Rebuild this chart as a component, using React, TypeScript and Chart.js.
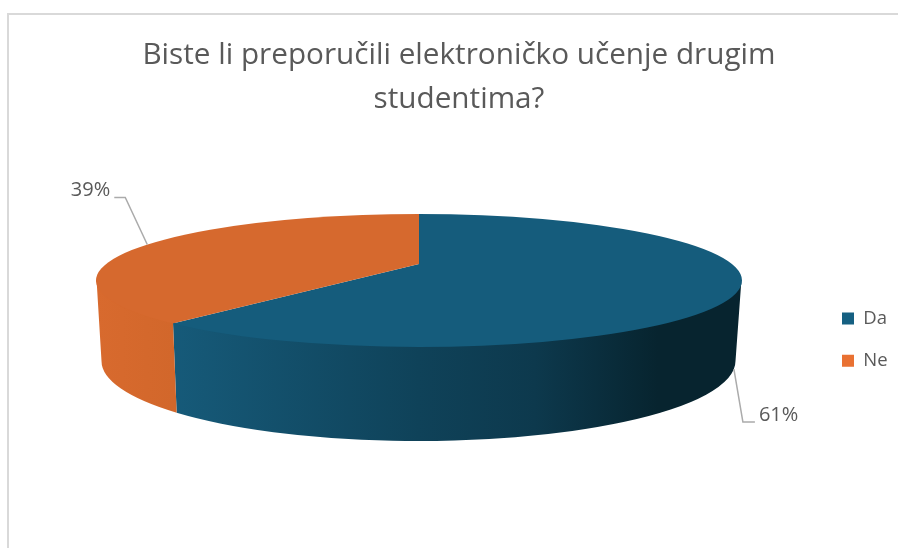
import React, { useEffect, useRef } from "react";
import { Chart, registerables } from "chart.js";

Chart.register(...registerables);

const titleLines = ["Biste li preporučili elektroničko učenje drugim", "studentima?"];
const categories = ["Da", "Ne"];
const shares = [61, 39];

const legendColors = ["#156082", "#E97132"];
const faceColors = ["#155C7C", "#D6692E"];
const FONT = "'Open Sans', sans-serif";
const TEXT = "#595959";

// Perspective of the tilted disc: how much the near half of the circle is stretched.
const PERSPECTIVE = 0.777;
// Lower rim of the disc, relative to the top face box.
const RIM = { dx: -0.5, dy: 80.5, rx: 317, ry: 80 };
// Leader line offsets from each slice's anchor point.
const LEADERS = [
  { elbow: [9, 53], end: [21, 53], text: [25, 46], align: "left" },
  { elbow: [-22, -47], end: [-33, -47], text: [-37, -54], align: "right" },
];

const warp = (angle: number) => {
  const t = (angle + Math.PI / 2) / 2;
  return 2 * Math.atan2(PERSPECTIVE * Math.sin(t), Math.cos(t)) - Math.PI / 2;
};

const wallFill = (ctx: CanvasRenderingContext2D, index: number, left: number, right: number) => {
  const g = ctx.createLinearGradient(left, 0, right, 0);
  if (index === 0) {
    g.addColorStop(0.12, "#165A79");
    g.addColorStop(0.5, "#0F4259");
    g.addColorStop(0.68, "#0D394D");
    g.addColorStop(0.87, "#07242F");
    g.addColorStop(1, "#07242F");
  } else {
    g.addColorStop(0, "#D86A2E");
    g.addColorStop(0.12, "#D2672B");
  }
  return g;
};

function drawSlice(this: any, ctx: CanvasRenderingContext2D) {
  const area = this.$area;
  const i = this.$index;
  const cx = (area.left + area.right) / 2;
  const cy = (area.top + area.bottom) / 2;
  const rx = area.width / 2;
  const ry = area.height / 2;
  const a = this.startAngle;
  const b = this.endAngle;
  const lo = Math.max(a, 0);
  const hi = Math.min(b, Math.PI);
  if (hi > lo) {
    // The wall starts a pixel under the top face so no seam shows between them.
    ctx.beginPath();
    ctx.ellipse(cx, cy - 1.5, rx - 0.5, ry, 0, lo, hi);
    ctx.ellipse(cx + RIM.dx, cy + RIM.dy, RIM.rx, RIM.ry, 0, hi, lo, true);
    ctx.closePath();
    ctx.fillStyle = wallFill(ctx, i, area.left, area.right);
    ctx.fill();
  }
  // Apex: where the disc's centre lands under perspective.
  const apexY = area.top + (area.height * PERSPECTIVE * PERSPECTIVE) / (1 + PERSPECTIVE * PERSPECTIVE);
  ctx.beginPath();
  ctx.moveTo(cx, apexY);
  ctx.ellipse(cx, cy, rx, ry, 0, a, b);
  ctx.closePath();
  ctx.fillStyle = faceColors[i];
  ctx.fill();
}

const disc3d = {
  id: "disc3d",
  beforeDraw(chart: any) {
    const { ctx, width, height } = chart;
    ctx.save();
    ctx.fillStyle = "#FFFFFF";
    ctx.fillRect(0, 0, width, height);
    ctx.strokeStyle = "#D9D9D9";
    ctx.lineWidth = 2;
    ctx.beginPath();
    ctx.moveTo(8, height);
    ctx.lineTo(8, 14);
    ctx.lineTo(width, 14);
    ctx.stroke();
    ctx.restore();
  },
  afterLayout(chart: any) {
    const left = 96, right = 742, top = 214, bottom = 347;
    chart.chartArea = { left, right, top, bottom, width: right - left, height: bottom - top };
    const lg = chart.legend;
    lg.left = 818.1; lg.right = 898; lg.top = 285.3; lg.bottom = 548;
  },
  afterDatasetsUpdate(chart: any) {
    chart.getDatasetMeta(0).data.forEach((el: any, i: number) => {
      el.startAngle = warp(el.startAngle);
      el.endAngle = warp(el.endAngle);
      el.$area = chart.chartArea;
      el.$index = i;
      el.draw = drawSlice;
    });
  },
  afterDatasetsDraw(chart: any) {
    const { ctx, chartArea: area } = chart;
    const cx = (area.left + area.right) / 2;
    const cy = (area.top + area.bottom) / 2;
    const total = shares.reduce((s, v) => s + v, 0);
    chart.getDatasetMeta(0).data.forEach((el: any, i: number) => {
      const before = shares.slice(0, i).reduce((s, v) => s + v, 0);
      const trueMid = -Math.PI / 2 + ((before + shares[i] / 2) / total) * 2 * Math.PI;
      const m = warp(trueMid);
      const front = Math.sin(m) > 0;
      const ax = front ? cx + RIM.dx + RIM.rx * Math.cos(m) : cx + (area.width / 2) * Math.cos(m);
      const ay = front ? cy + RIM.dy + RIM.ry * Math.sin(m) : cy + (area.height / 2) * Math.sin(m);
      const L = LEADERS[i];
      ctx.save();
      ctx.strokeStyle = "#ABABAB";
      ctx.lineWidth = 1.5;
      ctx.beginPath();
      ctx.moveTo(ax, ay);
      ctx.lineTo(ax + L.elbow[0], ay + L.elbow[1]);
      ctx.lineTo(ax + L.end[0], ay + L.end[1]);
      ctx.stroke();
      ctx.fillStyle = TEXT;
      ctx.font = `20px ${FONT}`;
      ctx.textAlign = L.align as CanvasTextAlign;
      ctx.textBaseline = "middle";
      ctx.fillText(`${shares[i]}%`, ax + L.text[0], ay + L.text[1]);
      ctx.restore();
    });
  },
};

export default function App() {
  const ref = useRef<HTMLCanvasElement>(null);
  useEffect(() => {
    const chart = new Chart(ref.current!, {
      type: "pie",
      data: {
        labels: categories,
        datasets: [{ data: shares, backgroundColor: legendColors, borderWidth: 0, clip: false } as any],
      },
      options: {
        responsive: false,
        animation: false,
        layout: { padding: { left: 20, top: 34 } },
        plugins: {
          title: {
            display: true,
            text: titleLines,
            color: TEXT,
            font: { family: FONT, size: 29.7, weight: "normal", lineHeight: 1.47 },
            padding: { top: 0, bottom: 10 },
          },
          legend: {
            position: "right",
            align: "start",
            labels: {
              boxWidth: 12,
              boxHeight: 12,
              color: TEXT,
              padding: 23.9,
              font: { family: FONT, size: 18.5 },
            },
          },
          tooltip: { enabled: false },
        },
      },
      plugins: [disc3d],
    } as any);
    return () => chart.destroy();
  }, []);
  return (
    <div style={{ position: "fixed", left: 0, top: 0, width: 898, height: 548, background: "#fff" }}>
      <canvas ref={ref} width={898} height={548} style={{ display: "block" }} />
    </div>
  );
}
